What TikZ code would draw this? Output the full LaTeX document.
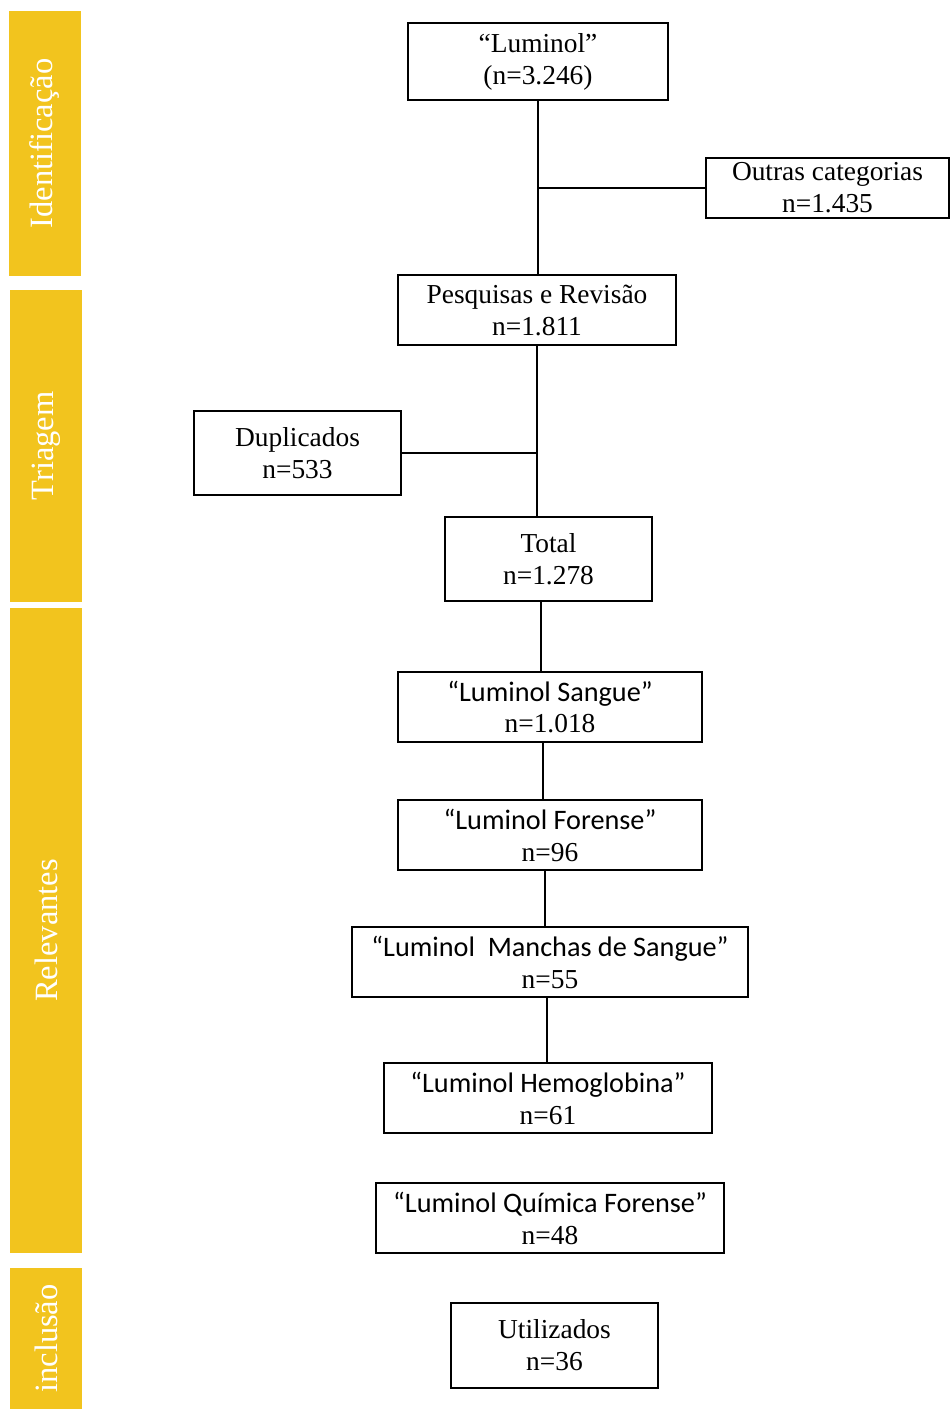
\documentclass[tikz,border=0pt]{standalone}
\usepackage{fontspec}
\setmainfont{Liberation Serif}
\newfontfamily\calibri[Scale=1.03]{Carlito}
\usepackage{tikz}
\usetikzlibrary{positioning}
\definecolor{faixa}{HTML}{F2C41E}

\begin{document}
\begin{tikzpicture}[x=0.02cm,y=-0.02cm,
  every node/.style={align=center,inner sep=0pt,font=\fontsize{15.6}{18.2}\selectfont},
  caixa/.style={draw,line width=0.8pt,minimum height=1.4cm},
  etapa/.style={fill=faixa,text=white,rotate=90,minimum height=1.46cm,font=\fontsize{18.5}{20}\selectfont}]
  \useasboundingbox (0,0) rectangle (950,1409);
  % faixas da esquerda
  \node [etapa, minimum width=5.3cm] (e1) at (45,143.5) {Identificação};
  \node [etapa, minimum width=6.24cm] (e2) at (46,446) {Triagem};
  \node [etapa, minimum width=12.9cm] (e3) at (46,930.5) {Relevantes};
  \node [etapa, minimum width=2.82cm] (e4) at (46,1338.5) {inclusão};
  % caixas
  \node [caixa, minimum width=5.2cm, minimum height=1.54cm] (1) at (538,61.5) {“Luminol”\\(n=3.246)};
  \node [caixa, minimum width=4.86cm, minimum height=1.2cm] (2) at (827.5,188) {Outras categorias\\n=1.435};
  \node [caixa, minimum width=5.56cm] (3) at (537,310) {Pesquisas e Revisão\\n=1.811};
  \node [caixa, minimum width=4.14cm, minimum height=1.68cm] (4) at (297.5,453) {Duplicados\\n=533};
  \node [caixa, minimum width=4.14cm, minimum height=1.68cm] (5) at (548.5,559) {Total\\n=1.278};
  \node [caixa, minimum width=6.08cm] (6) at (550,707) {{\calibri “Luminol Sangue”}\\n=1.018};
  \node [caixa, minimum width=6.08cm] (7) at (550,835) {{\calibri “Luminol Forense”}\\n=96};
  \node [caixa, minimum width=7.92cm] (8) at (550,962) {{\calibri “Luminol\ \ Manchas de Sangue”}\\n=55};
  \node [caixa, minimum width=6.56cm] (9) at (548,1098) {{\calibri “Luminol Hemoglobina”}\\n=61};
  \node [caixa, minimum width=6.96cm] (10) at (550,1218) {{\calibri “Luminol Química Forense”}\\n=48};
  \node [caixa, minimum width=4.14cm, minimum height=1.7cm] (11) at (554.5,1345.5) {Utilizados\\n=36};
  % ligacoes
  \draw [line width=0.8pt] (1.south) -- (1.south |- 3.north);
  \draw [line width=0.8pt] (1.south |- 2.west) -- (2.west);
  \draw [line width=0.8pt] (3.south) -- (3.south |- 5.north);
  \draw [line width=0.8pt] (4.east) -- (4.east -| 3.south);
  \draw [line width=0.8pt] ([xshift=-4.3pt]5.south) -- ([xshift=-4.3pt]5.south |- 6.north);
  \draw [line width=0.8pt] ([xshift=-4pt]6.south) -- ([xshift=-4pt]6.south |- 7.north);
  \draw [line width=0.8pt] ([xshift=-2.8pt]7.south) -- ([xshift=-2.8pt]7.south |- 8.north);
  \draw [line width=0.8pt] ([xshift=-1.7pt]8.south) -- ([xshift=-1.7pt]8.south |- 9.north);
\end{tikzpicture}
\end{document}
